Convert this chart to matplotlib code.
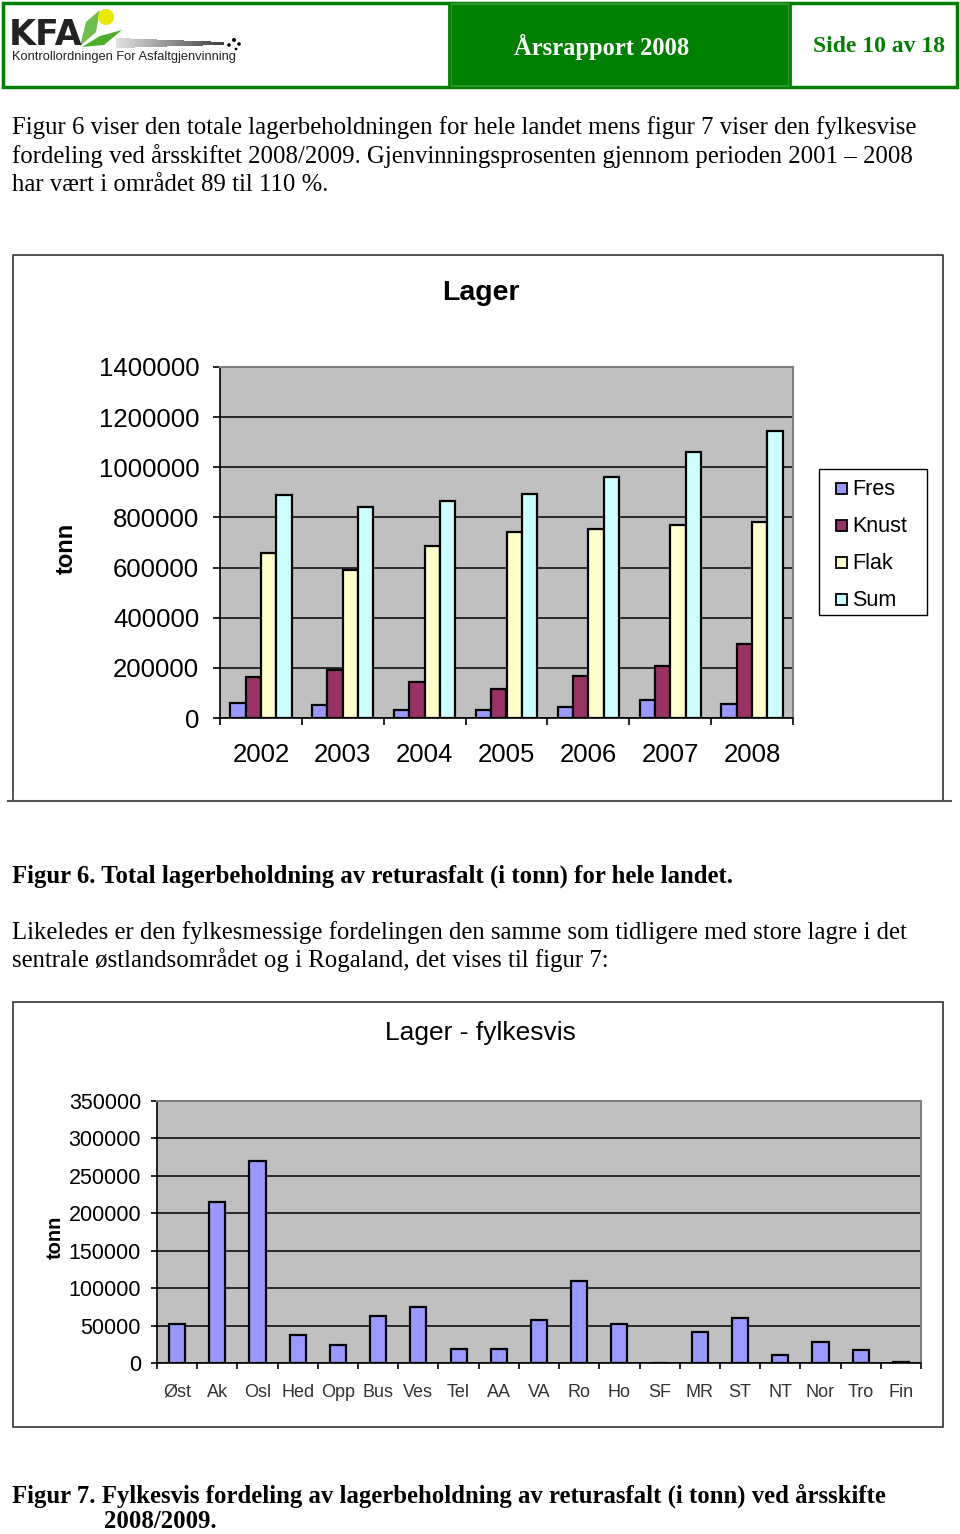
import numpy as np
import matplotlib.pyplot as plt
from matplotlib.patches import Rectangle, Polygon, Circle

# --- data, figur 6 ---
years = ['2002', '2003', '2004', '2005', '2006', '2007', '2008']
fres = [60000, 53000, 30000, 30000, 42000, 73000, 57000]
knust = [162000, 193000, 142000, 116000, 166000, 208000, 295000]
flak = [659000, 592000, 688000, 742000, 753000, 770000, 780000]
sum_ = [888000, 840000, 865000, 892000, 962000, 1059000, 1143000]
series_names = ['Fres', 'Knust', 'Flak', 'Sum']
series_colors = ['#9999FF', '#993366', '#FFFFCC', '#CCFFFF']

# --- data, figur 7 ---
fylker = ['Øst', 'Ak', 'Osl', 'Hed', 'Opp', 'Bus', 'Ves', 'Tel', 'AA', 'VA',
          'Ro', 'Ho', 'SF', 'MR', 'ST', 'NT', 'Nor', 'Tro', 'Fin']
lager_fylke = [52600, 215600, 270000, 37000, 23600, 63300, 75300, 18300, 18300, 57000,
               109500, 51700, 0, 41000, 60500, 10700, 27600, 17400, 1000]

W, H = 960, 1534
SERIF = 'Liberation Serif'
SANS = 'Liberation Sans'
GREEN = '#008000'

def box(x0, y0, x1, y1):
    return [x0 / W, 1 - y1 / H, (x1 - x0) / W, (y1 - y0) / H]

fig = plt.figure(figsize=(W / 100, H / 100), dpi=100)
fig.patch.set_facecolor('white')

# overlay in pixel coordinates for page decorations
pg = fig.add_axes([0, 0, 1, 1])
pg.set_xlim(0, W)
pg.set_ylim(H, 0)
pg.axis('off')

# header
pg.add_patch(Rectangle((3, 3), 954, 84, fill=False, ec=GREEN, lw=2.5))
pg.add_patch(Rectangle((451, 4), 338, 82, fc=GREEN, ec='#2e9a2e', lw=1.5))
pg.plot([449, 449], [3, 87], color=GREEN, lw=2)
pg.plot([790, 790], [3, 87], color=GREEN, lw=2)
pg.text(602, 47, 'Årsrapport 2008', color='white', fontsize=17.7, fontweight='bold',
        family=SERIF, ha='center', va='center')
pg.text(879, 47, 'Side 10 av 18', color=GREEN, fontsize=17, fontweight='bold',
        family=SERIF, ha='center', va='center')

# logo
pg.add_patch(Polygon([[80, 46], [86, 22], [100, 10], [96, 32]], fc='#6cc04a', ec='none'))
pg.add_patch(Polygon([[82, 47], [100, 36], [122, 30], [104, 45]], fc='#4caf2a', ec='none'))
pg.add_patch(Circle((106, 17), 8, fc='#e8e800', ec='none'))
for i in range(40):
    g = 0.88 - 0.65 * i / 40
    pg.add_patch(Rectangle((116 + i * 2.7, 38 + i * 0.1), 2.8, 10 - i * 0.18,
                           fc=(g, g, g), ec='none'))
for (cx, cy, r) in [(229, 45, 1.8), (234, 40, 2.0), (239, 44, 1.8), (236, 49, 1.4)]:
    pg.add_patch(Circle((cx, cy), r, fc='black', ec='none'))
pg.text(9, 45, 'KFA', fontsize=25, fontweight='bold', family='DejaVu Sans',
        color='#222222', va='baseline')
pg.text(12, 60, 'Kontrollordningen For Asfaltgjenvinning', fontsize=9.3,
        family=SANS, color='#222222', va='baseline')

# body text
txt = dict(fontsize=17.8, family=SERIF, va='baseline', color='black')
pg.text(12, 134, 'Figur 6 viser den totale lagerbeholdningen for hele landet mens figur 7 viser den fylkesvise', **txt)
pg.text(12, 163, 'fordeling ved årsskiftet 2008/2009. Gjenvinningsprosenten gjennom perioden 2001 – 2008', **txt)
pg.text(12, 191, 'har vært i området 89 til 110 %.', **txt)
pg.text(12, 883, 'Figur 6. Total lagerbeholdning av returasfalt (i tonn) for hele landet.',
        fontweight='bold', **txt)
pg.text(12, 939, 'Likeledes er den fylkesmessige fordelingen den samme som tidligere med store lagre i det', **txt)
pg.text(12, 967, 'sentrale østlandsområdet og i Rogaland, det vises til figur 7:', **txt)
pg.text(12, 1503, 'Figur 7. Fylkesvis fordeling av lagerbeholdning av returasfalt (i tonn) ved årsskifte',
        fontweight='bold', **txt)
pg.text(104, 1528, '2008/2009.', fontweight='bold', **txt)

# chart frames
pg.plot([13, 13, 943, 943], [800, 255, 255, 800], color='#333333', lw=1.2)
pg.plot([8, 951], [801, 801], color='#555555', lw=1.5)
pg.add_patch(Rectangle((13, 1002), 930, 425, fill=False, ec='#333333', lw=1.2))


def style_axes(ax):
    ax.set_facecolor('#C0C0C0')
    for s in ['top', 'right']:
        ax.spines[s].set_color('#808080')
        ax.spines[s].set_linewidth(1.5)
    for s in ['left', 'bottom']:
        ax.spines[s].set_color('black')
        ax.spines[s].set_linewidth(1.2)
    ax.grid(axis='y', color='black', lw=1.1)
    ax.set_axisbelow(True)


# --- figur 6 ---
ax1 = fig.add_axes(box(220, 367, 793, 718))
style_axes(ax1)
x = np.arange(len(years))
bw = 0.1875
for k, (vals, col, name) in enumerate(zip([fres, knust, flak, sum_], series_colors, series_names)):
    ax1.bar(x + (k - 1.5) * bw, vals, bw, color=col, edgecolor='black', lw=1.6,
            label=name, zorder=3)
ax1.set_xlim(-0.5, len(years) - 0.5)
ax1.set_ylim(0, 1400000)
ax1.set_yticks(np.arange(0, 1400001, 200000))
ax1.set_yticklabels([str(v) for v in range(0, 1400001, 200000)], family=SANS, fontsize=18.5)
ax1.set_xticks(x)
ax1.set_xticklabels(years, family=SANS, fontsize=18.5)
ax1.set_xticks(np.arange(-0.5, len(years)), minor=True)
ax1.tick_params(axis='x', which='major', length=0, pad=18)
ax1.tick_params(axis='x', which='minor', length=5, width=1.2, direction='out')
ax1.tick_params(axis='y', length=5, width=1.2, pad=10)
fig.text(481 / W, 1 - 293 / H, 'Lager', family=SANS, fontsize=20.5, fontweight='bold',
         ha='center', va='center')
fig.text(66 / W, 1 - 548 / H, 'tonn', family=SANS, fontsize=17, fontweight='bold',
         rotation=90, ha='center', va='center')

# legend box drawn in page pixels (Excel style padding)
pg.add_patch(Rectangle((819, 469), 108, 146, fc='white', ec='black', lw=1.0))
for k, (name, col) in enumerate(zip(series_names, series_colors)):
    cy = 488 + k * 37
    pg.add_patch(Rectangle((836, cy - 5.5), 11, 11, fc=col, ec='black', lw=1.3))
    pg.text(852, cy + 1.5, name, family=SANS, fontsize=15.5, va='center', ha='left')

# --- figur 7 ---
ax2 = fig.add_axes(box(157, 1101, 921, 1363))
style_axes(ax2)
x2 = np.arange(len(fylker))
ax2.bar(x2, lager_fylke, 0.4, color='#9999FF', edgecolor='black', lw=1.6, zorder=3)
ax2.set_xlim(-0.5, len(fylker) - 0.5)
ax2.set_ylim(0, 350000)
ax2.set_yticks(np.arange(0, 350001, 50000))
ax2.set_yticklabels([str(v) for v in range(0, 350001, 50000)], family=SANS, fontsize=15.5)
ax2.set_xticks(x2)
ax2.set_xticklabels(fylker, family=SANS, fontsize=13, color='#333333')
ax2.set_xticks(np.arange(-0.5, len(fylker)), minor=True)
ax2.tick_params(axis='x', which='major', length=0, pad=15)
ax2.tick_params(axis='x', which='minor', length=4.5, width=1.2, direction='out')
ax2.tick_params(axis='y', length=4.5, width=1.2, pad=7)
fig.text(480 / W, 1 - 1033 / H, 'Lager - fylkesvis', family=SANS, fontsize=19,
         ha='center', va='center')
fig.text(55 / W, 1 - 1237 / H, 'tonn', family=SANS, fontsize=14.5, fontweight='bold',
         rotation=90, ha='center', va='center')

fig.savefig('out.png', dpi=100)
